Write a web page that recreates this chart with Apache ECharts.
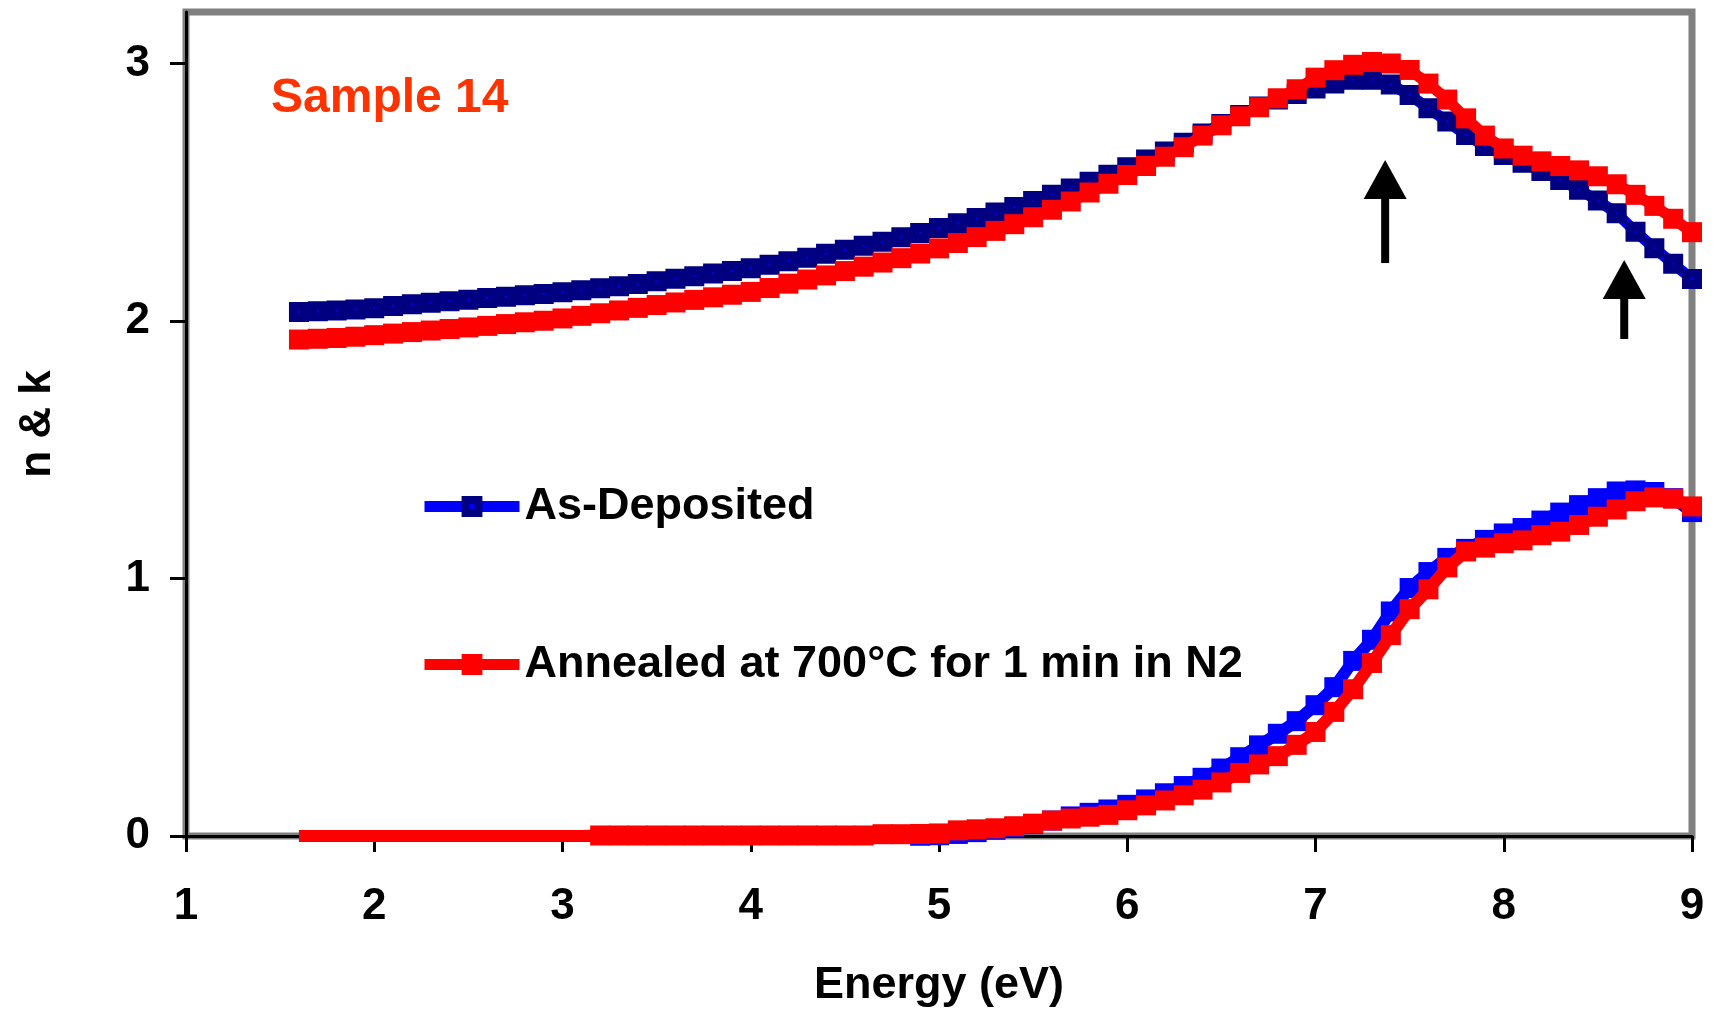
<!DOCTYPE html>
<html>
<head>
<meta charset="utf-8">
<title>Sample 14 – n &amp; k</title>
<script src="https://cdn.jsdelivr.net/npm/echarts@6.0.0/dist/echarts.min.js"></script>
<style>
  html, body { margin: 0; padding: 0; background: #ffffff; }
  #chart { width: 1715px; height: 1013px; }
</style>
</head>
<body>
<div id="chart"></div>
<script>
// Photon energy grid (eV)
const energy = [
  1.6, 1.7, 1.8, 1.9, 2.0, 2.1, 2.2, 2.3, 2.4, 2.5,
  2.6, 2.7, 2.8, 2.9, 3.0, 3.1, 3.2, 3.3, 3.4, 3.5,
  3.6, 3.7, 3.8, 3.9, 4.0, 4.1, 4.2, 4.3, 4.4, 4.5,
  4.6, 4.7, 4.8, 4.9, 5.0, 5.1, 5.2, 5.3, 5.4, 5.5,
  5.6, 5.7, 5.8, 5.9, 6.0, 6.1, 6.2, 6.3, 6.4, 6.5,
  6.6, 6.7, 6.8, 6.9, 7.0, 7.1, 7.2, 7.3, 7.4, 7.5,
  7.6, 7.7, 7.8, 7.9, 8.0, 8.1, 8.2, 8.3, 8.4, 8.5,
  8.6, 8.7, 8.8, 8.9, 9.0
];

// Refractive index n
const nAsDeposited = [
  2.035, 2.038, 2.041, 2.045, 2.050, 2.058, 2.065, 2.071, 2.077, 2.083,
  2.089, 2.094, 2.100, 2.105, 2.112, 2.119, 2.127, 2.135, 2.144, 2.154,
  2.164, 2.174, 2.184, 2.194, 2.205, 2.218, 2.232, 2.246, 2.261, 2.277,
  2.292, 2.308, 2.325, 2.342, 2.361, 2.380, 2.400, 2.421, 2.443, 2.466,
  2.490, 2.515, 2.541, 2.568, 2.597, 2.627, 2.658, 2.692, 2.728, 2.765,
  2.800, 2.833, 2.860, 2.882, 2.903, 2.922, 2.937, 2.937, 2.918, 2.878,
  2.826, 2.775, 2.722, 2.680, 2.645, 2.615, 2.583, 2.548, 2.510, 2.468,
  2.418, 2.347, 2.283, 2.222, 2.163
];
const nAnnealed = [
  1.928, 1.931, 1.934, 1.939, 1.945, 1.951, 1.957, 1.963, 1.969, 1.975,
  1.981, 1.988, 1.995, 2.001, 2.010, 2.020, 2.030, 2.041, 2.051, 2.062,
  2.072, 2.082, 2.092, 2.102, 2.113, 2.128, 2.145, 2.161, 2.177, 2.194,
  2.211, 2.227, 2.244, 2.262, 2.282, 2.303, 2.326, 2.350, 2.376, 2.403,
  2.432, 2.464, 2.499, 2.533, 2.567, 2.602, 2.638, 2.675, 2.720, 2.760,
  2.795, 2.830, 2.865, 2.900, 2.945, 2.974, 2.995, 3.006, 3.000, 2.975,
  2.922, 2.860, 2.787, 2.720, 2.670, 2.642, 2.620, 2.602, 2.585, 2.562,
  2.531, 2.490, 2.447, 2.397, 2.345
];

// Extinction coefficient k
const kAsDeposited = [
  0, 0, 0, 0, 0, 0, 0, 0, 0, 0,
  0, 0, 0, 0, 0, 0, 0, 0, 0, 0,
  0, 0, 0, 0, 0, 0, 0, 0, 0, 0,
  0, 0, 0, 0.001, 0.003, 0.008, 0.015, 0.024, 0.034, 0.046,
  0.060, 0.076, 0.090, 0.103, 0.121, 0.142, 0.166, 0.194, 0.226, 0.262,
  0.306, 0.352, 0.397, 0.446, 0.508, 0.578, 0.680, 0.762, 0.872, 0.963,
  1.025, 1.080, 1.115, 1.150, 1.175, 1.196, 1.225, 1.256, 1.285, 1.312,
  1.338, 1.342, 1.336, 1.312, 1.258
];
const kAnnealed = [
  0, 0, 0, 0, 0, 0, 0, 0, 0, 0,
  0, 0, 0, 0, 0, 0, 0.002, 0.002, 0.002, 0.002,
  0.002, 0.002, 0.002, 0.002, 0.002, 0.002, 0.002, 0.002, 0.002, 0.002,
  0.002, 0.007, 0.007, 0.008, 0.010, 0.022, 0.026, 0.030, 0.038, 0.048,
  0.060, 0.068, 0.075, 0.082, 0.100, 0.119, 0.138, 0.158, 0.180, 0.208,
  0.245, 0.278, 0.310, 0.354, 0.404, 0.482, 0.570, 0.672, 0.780, 0.881,
  0.958, 1.043, 1.105, 1.120, 1.137, 1.148, 1.168, 1.182, 1.208, 1.240,
  1.268, 1.300, 1.315, 1.310, 1.280
];

// Upward arrows marking the features (energy, tail value, tip value)
const arrowEnergy = [7.37, 8.64];
const arrowTail = [2.225, 1.93];
const arrowTip = [2.625, 2.237];

// Axis ticks
const xTicks = [1, 2, 3, 4, 5, 6, 7, 8, 9];
const yTicks = [0, 1, 2, 3];

const seriesNames = ['As-Deposited', 'Annealed at 700°C for 1 min in N2'];

const FONT = "'Liberation Sans', Arial, Helvetica, sans-serif";
const BLUE = '#0000ff';
const NAVY = '#000080';
const RED = '#ff0000';

const pairs = (ys) => energy.map((e, i) => [e, ys[i]]);
// zero k readings are drawn as a bare line, without markers
const kSymbolSize = (v) => (v[1] > 0 ? 20 : 0);

const chart = echarts.init(document.getElementById('chart'), null, { renderer: 'canvas' });

const legendBase = {
  orient: 'horizontal',
  left: 419,
  padding: 0,
  itemWidth: 95,
  itemHeight: 16,
  itemGap: 0,
  selectedMode: false,
  lineStyle: { width: 11 },
  itemStyle: { borderWidth: 8 },
  textStyle: { fontFamily: FONT, fontSize: 45, fontWeight: 'bold', color: '#000000' }
};

chart.setOption({
  backgroundColor: '#ffffff',
  animation: false,
  title: {
    text: 'Sample 14',
    left: 271,
    top: 75,
    padding: 0,
    textStyle: { fontFamily: FONT, fontSize: 48, fontWeight: 'bold', color: '#ff3300' }
  },
  legend: [
    Object.assign({}, legendBase, { top: 484, data: [seriesNames[0]] }),
    Object.assign({}, legendBase, { top: 642, data: [seriesNames[1]] })
  ],
  grid: {
    left: 186,
    right: 23,
    top: 12,
    bottom: 176,
    show: true,
    borderColor: '#808080',
    borderWidth: 7,
    backgroundColor: '#ffffff'
  },
  xAxis: {
    type: 'value',
    min: 1,
    max: 9,
    interval: 1,
    name: 'Energy (eV)',
    nameLocation: 'middle',
    nameGap: 127,
    nameTextStyle: { fontFamily: FONT, fontSize: 45, fontWeight: 'bold', color: '#000000' },
    axisLine: { show: true, onZero: false, lineStyle: { color: '#000000', width: 3 } },
    axisTick: { show: true, length: 16, lineStyle: { color: '#000000', width: 3 }, customValues: xTicks },
    axisLabel: {
      margin: 49,
      fontFamily: FONT, fontSize: 44, fontWeight: 'bold', color: '#000000',
      customValues: xTicks
    },
    splitLine: { show: false }
  },
  yAxis: {
    type: 'value',
    min: 0,
    max: 3.2,
    interval: 1,
    name: 'n & k',
    nameLocation: 'middle',
    nameGap: 126,
    nameRotate: 90,
    nameTextStyle: { fontFamily: FONT, fontSize: 44, fontWeight: 'bold', color: '#000000' },
    axisLine: { show: true, onZero: false, lineStyle: { color: '#000000', width: 3 } },
    axisTick: { show: true, length: 16, lineStyle: { color: '#000000', width: 3 }, customValues: yTicks },
    axisLabel: {
      margin: 36,
      fontFamily: FONT, fontSize: 44, fontWeight: 'bold', color: '#000000',
      customValues: yTicks
    },
    splitLine: { show: false }
  },
  series: [
    {
      name: seriesNames[0],
      type: 'line',
      data: pairs(nAsDeposited),
      clip: false,
      symbol: 'rect',
      symbolSize: 11,
      lineStyle: { color: BLUE, width: 11 },
      itemStyle: { color: BLUE, borderColor: NAVY, borderWidth: 9 },
      z: 2
    },
    {
      name: seriesNames[1],
      type: 'line',
      data: pairs(nAnnealed),
      clip: false,
      symbol: 'rect',
      symbolSize: 20,
      lineStyle: { color: RED, width: 11 },
      itemStyle: { color: RED, borderColor: RED, borderWidth: 0 },
      z: 3
    },
    {
      name: seriesNames[0],
      type: 'line',
      data: pairs(kAsDeposited),
      clip: false,
      symbol: 'rect',
      symbolSize: kSymbolSize,
      lineStyle: { color: BLUE, width: 12 },
      itemStyle: { color: BLUE, borderColor: BLUE, borderWidth: 0 },
      z: 2
    },
    {
      name: seriesNames[1],
      type: 'line',
      data: pairs(kAnnealed),
      clip: false,
      symbol: 'rect',
      symbolSize: kSymbolSize,
      lineStyle: { color: RED, width: 12 },
      itemStyle: { color: RED, borderColor: RED, borderWidth: 0 },
      z: 3
    },
    {
      name: 'arrows',
      type: 'custom',
      data: arrowEnergy.map((e, i) => [e, arrowTail[i], arrowTip[i]]),
      encode: { x: 0, y: [1, 2] },
      z: 5,
      silent: true,
      renderItem: function (params, api) {
        const x = api.value(0);
        const tail = api.coord([x, api.value(1)]);
        const tip = api.coord([x, api.value(2)]);
        const headH = 39, headW = 43, shaftW = 8;
        return {
          type: 'group',
          children: [
            {
              type: 'rect',
              shape: { x: tip[0] - shaftW / 2, y: tip[1] + headH - 1, width: shaftW, height: tail[1] - tip[1] - headH + 1 },
              style: { fill: '#000000' }
            },
            {
              type: 'polygon',
              shape: { points: [[tip[0], tip[1]], [tip[0] - headW / 2, tip[1] + headH], [tip[0] + headW / 2, tip[1] + headH]] },
              style: { fill: '#000000' }
            }
          ]
        };
      }
    }
  ]
});
</script>
</body>
</html>
